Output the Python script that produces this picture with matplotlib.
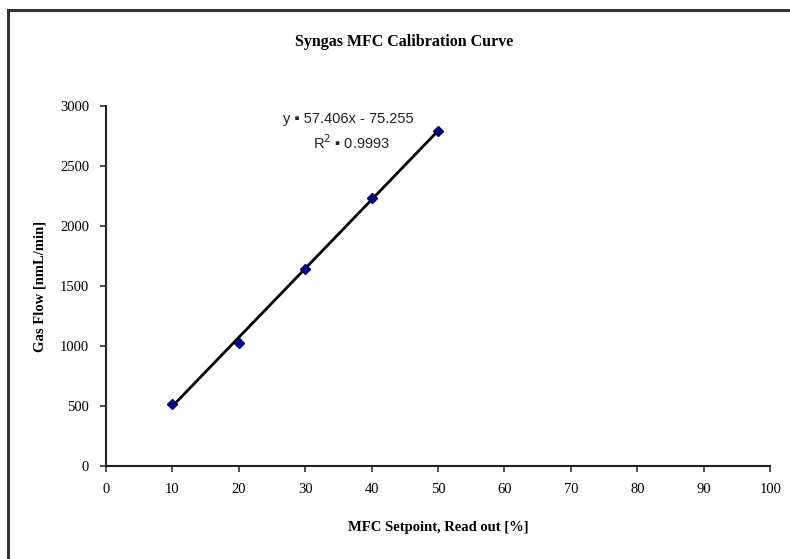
import numpy as np
import matplotlib
matplotlib.use("Agg")
import matplotlib.pyplot as plt
from matplotlib.patches import Rectangle

# Calibration points: MFC setpoint (%) vs measured gas flow (nmL/min)
setpoint = [10, 20, 30, 40, 50]
gas_flow = [520, 1030, 1645, 2235, 2790]

# Linear trendline reported on the chart
slope = 57.406
intercept = -75.255
r_squared = 0.9993

x_ticks = [0, 10, 20, 30, 40, 50, 60, 70, 80, 90, 100]
y_ticks = [0, 500, 1000, 1500, 2000, 2500, 3000]

serif = ['Liberation Serif', 'DejaVu Serif']
sans = ['Liberation Sans', 'DejaVu Sans']

fig = plt.figure(figsize=(7.9, 5.59), dpi=100)
ax = fig.add_axes([0.134, 0.166, 0.841, 0.644])

# Outer chart border (runs off the right and bottom edges)
frame = Rectangle((0.010, -0.05), 1.05, 1.032, transform=fig.transFigure,
                  fill=False, edgecolor='#333333', linewidth=2.2, clip_on=False)
fig.patches.append(frame)

# Trendline drawn from the stated equation
x_fit = np.array([setpoint[0], setpoint[-1]])
ax.plot(x_fit, slope * x_fit + intercept, color='black', linewidth=2, zorder=2)

ax.plot(setpoint, gas_flow, linestyle='none', marker='D', markersize=5.5,
        color='#000080', zorder=3)

ax.set_xlim(0, 100)
ax.set_ylim(0, 3000)
ax.set_xticks(x_ticks)
ax.set_yticks(y_ticks)
ax.tick_params(direction='out', length=4, width=1.2, color='#333333',
               labelsize=10.5, pad=8)
for lbl in ax.get_xticklabels() + ax.get_yticklabels():
    lbl.set_family(serif)

for side in ['top', 'right']:
    ax.spines[side].set_visible(False)
for side in ['left', 'bottom']:
    ax.spines[side].set_linewidth(1.5)
    ax.spines[side].set_color('#222222')

ax.set_xlabel('MFC Setpoint, Read out [%]', family=serif, fontweight='bold',
              fontsize=10.5, labelpad=18)
ax.set_ylabel('Gas Flow [nmL/min]', family=serif, fontweight='bold',
              fontsize=10.5, labelpad=10)
fig.text(0.512, 0.925, 'Syngas MFC Calibration Curve', family=serif,
         fontweight='bold', fontsize=11.5, ha='center', va='center')

# Trendline equation label
ax.text(36.5, 2890, f'y \u25aa {slope}x - {abs(intercept)}', family=sans,
        fontsize=10.5, ha='center', va='center', color='#222222')
ax.text(37, 2700, f'R$^2$ \u25aa {r_squared}', family=sans,
        fontsize=10.5, ha='center', va='center', color='#222222')

fig.savefig('out.png', dpi=100)
